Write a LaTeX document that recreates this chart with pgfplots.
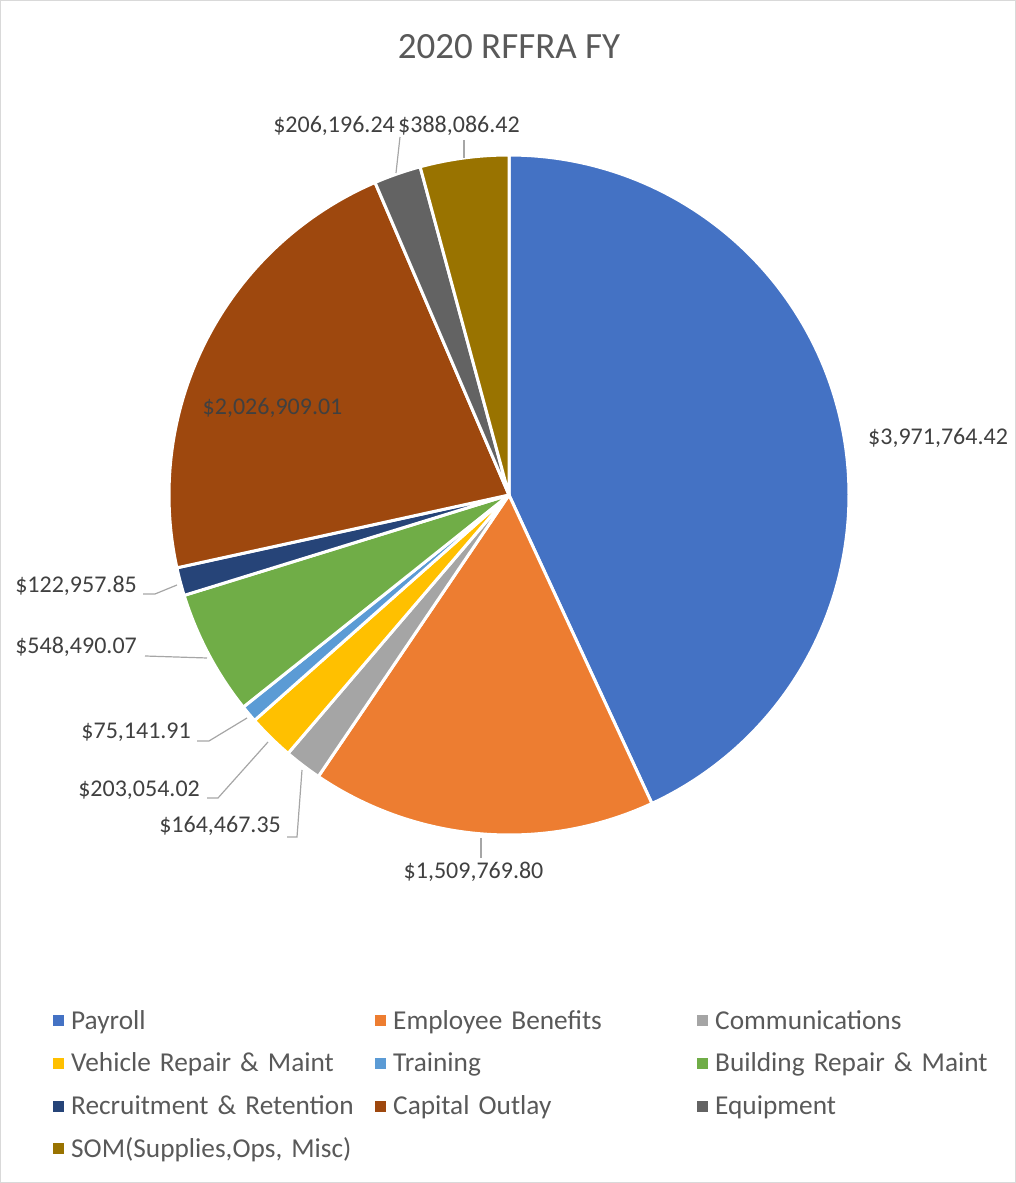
\documentclass[border=0pt]{standalone}
\usepackage{fontspec}
\setmainfont{Carlito}
\usepackage{pgfplots}
\pgfplotsset{compat=1.18}
\definecolor{cPay}{HTML}{4472C4}
\definecolor{cBen}{HTML}{ED7D31}
\definecolor{cCom}{HTML}{A5A5A5}
\definecolor{cVeh}{HTML}{FFC000}
\definecolor{cTra}{HTML}{5B9BD5}
\definecolor{cBui}{HTML}{70AD47}
\definecolor{cRec}{HTML}{264478}
\definecolor{cCap}{HTML}{9E480E}
\definecolor{cEqu}{HTML}{636363}
\definecolor{cSom}{HTML}{997300}
\definecolor{lbl}{HTML}{404040}
\definecolor{leg}{HTML}{595959}
\definecolor{lead}{HTML}{A6A6A6}
\definecolor{frame}{HTML}{D9D9D9}
% data values
\def\vA{3971764.42}
\def\vB{1509769.80}
\def\vC{164467.35}
\def\vD{203054.02}
\def\vE{75141.91}
\def\vF{548490.07}
\def\vG{122957.85}
\def\vH{2026909.01}
\def\vI{206196.24}
\def\vJ{388086.42}
\pgfkeys{/pgf/fpu=true,/pgf/fpu/output format=fixed}
\pgfmathsetmacro\T{\vA+\vB+\vC+\vD+\vE+\vF+\vG+\vH+\vI+\vJ}
\pgfmathsetmacro\aA{90}
\pgfmathsetmacro\aB{\aA-360*\vA/\T}
\pgfmathsetmacro\aC{\aB-360*\vB/\T}
\pgfmathsetmacro\aD{\aC-360*\vC/\T}
\pgfmathsetmacro\aE{\aD-360*\vD/\T}
\pgfmathsetmacro\aF{\aE-360*\vE/\T}
\pgfmathsetmacro\aG{\aF-360*\vF/\T}
\pgfmathsetmacro\aH{\aG-360*\vG/\T}
\pgfmathsetmacro\aI{\aH-360*\vH/\T}
\pgfmathsetmacro\aJ{\aI-360*\vI/\T}
\pgfmathsetmacro\aK{\aJ-360*\vJ/\T}
\pgfkeys{/pgf/fpu=false}
\def\cx{509}
\def\cy{688}
\def\R{340}
\newcommand{\pieslice}[3]{%
  \addplot[fill=#3, draw=white, line width=3pt, line join=round, domain=#2:#1, samples=120]
    ({\cx+\R*cos(x)},{\cy+\R*sin(x)}) -- (axis cs:\cx,\cy) -- cycle;
}
\newcommand{\lblfont}{\fontsize{24}{29}\selectfont}
\begin{document}
\begin{tikzpicture}
\begin{axis}[
  hide axis, scale only axis,
  x=1pt, y=1pt,
  xmin=0, xmax=1016, ymin=0, ymax=1183,
  clip=false,
  legend columns=3,
  legend cell align=left,
  legend image code/.code={\fill[#1,draw=none] (0pt,-4pt) rectangle (11pt,7pt);},
  legend style={at={(axis cs:50,176)}, anchor=north west, draw=none, fill=none,
    column sep=7pt, row sep=16.7pt,
    font=\fontsize{27.3}{33}\selectfont, text=leg,
    nodes={inner sep=0pt, text width=297pt, text height=20pt, text depth=6pt, align=left}},
]
\pieslice{\aA}{\aB}{cPay}\addlegendentry{Payroll}
\pieslice{\aB}{\aC}{cBen}\addlegendentry{Employee Benefits}
\pieslice{\aC}{\aD}{cCom}\addlegendentry{Communications}
\pieslice{\aD}{\aE}{cVeh}\addlegendentry{Vehicle Repair \& Maint}
\pieslice{\aE}{\aF}{cTra}\addlegendentry{Training}
\pieslice{\aF}{\aG}{cBui}\addlegendentry{Building Repair \& Maint}
\pieslice{\aG}{\aH}{cRec}\addlegendentry{Recruitment \& Retention}
\pieslice{\aH}{\aI}{cCap}\addlegendentry{Capital Outlay}
\pieslice{\aI}{\aJ}{cEqu}\addlegendentry{Equipment}
\pieslice{\aJ}{\aK}{cSom}\addlegendentry{SOM(Supplies,Ops, Misc)}
% leader lines
\addplot[forget plot, lead, line width=1.2pt] coordinates {(481,345) (481,325)};
\addplot[forget plot, lead, line width=1.2pt] coordinates {(287,346) (297,346) (302,413)};
\addplot[forget plot, lead, line width=1.2pt] coordinates {(207,385) (218,385) (268,441)};
\addplot[forget plot, lead, line width=1.2pt] coordinates {(197,442) (209,442) (247,465)};
\addplot[forget plot, lead, line width=1.2pt] coordinates {(145,527) (207,525)};
\addplot[forget plot, lead, line width=1.2pt] coordinates {(143,589) (155,589) (177,598)};
\addplot[forget plot, lead, line width=1.2pt] coordinates {(400,1046) (396,1010)};
\addplot[forget plot, lead, line width=1.2pt] coordinates {(464,1043) (464,1025)};
% labels
\begin{scope}[every node/.style={inner sep=0pt, text=lbl, font=\lblfont}]
\node[anchor=mid west] at (axis cs:868,741) {\$3,971,764.42};
\node[anchor=mid] at (axis cs:473.5,307) {\$1,509,769.80};
\node[anchor=mid east] at (axis cs:281,353) {\$164,467.35};
\node[anchor=mid east] at (axis cs:200,389) {\$203,054.02};
\node[anchor=mid east] at (axis cs:191,447) {\$75,141.91};
\node[anchor=mid east] at (axis cs:137,532) {\$548,490.07};
\node[anchor=mid east] at (axis cs:137,593) {\$122,957.85};
\node[anchor=mid] at (axis cs:272.5,771) {\$2,026,909.01};
\node[anchor=mid east] at (axis cs:395,1053) {\$206,196.24};
\node[anchor=mid west] at (axis cs:398,1053) {\$388,086.42};
\end{scope}
\node[anchor=base, inner sep=0pt, text=leg, font=\fontsize{37}{44}\selectfont] at (axis cs:509,1124) {2020 RFFRA FY};
\draw[frame, line width=1.2pt] (axis cs:0.6,0.6) rectangle (axis cs:1015.4,1182.4);
\end{axis}
\end{tikzpicture}
\end{document}
